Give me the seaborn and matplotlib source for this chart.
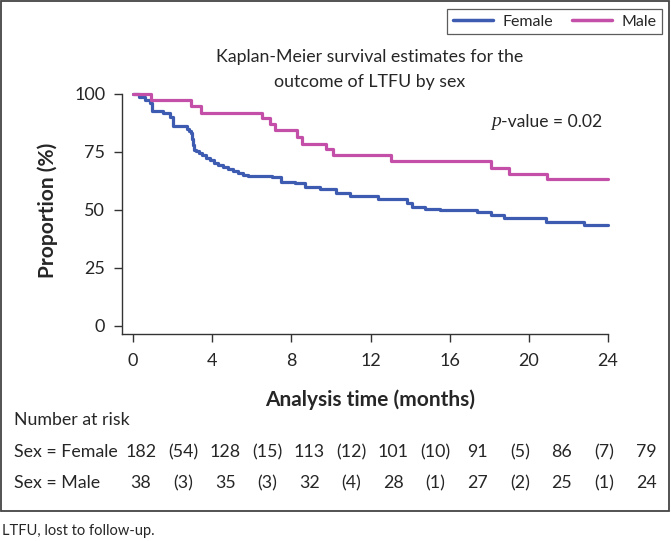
import numpy as np
import pandas as pd
import matplotlib
matplotlib.use('Agg')
import matplotlib.pyplot as plt
from matplotlib.patches import Rectangle
import seaborn as sns

# Kaplan-Meier step points (months, % not yet LTFU)
female_time = [0, 0.3, 0.6, 0.85, 0.94, 1.5, 1.87, 2.04, 2.7, 2.85, 2.95, 3.0, 3.05, 3.1,
               3.2, 3.35, 3.5, 3.7, 3.9, 4.1, 4.3, 4.55, 4.8, 5.05, 5.3, 5.55, 5.8, 6.25,
               7.0, 7.45, 8.2, 8.7, 9.45, 10.26, 10.95, 12.38, 13.85, 14.1, 14.75, 15.5,
               17.37, 18.1, 18.72, 20.85, 22.77, 24]
female_surv = [100, 98.5, 97.3, 96.0, 92.8, 91.7, 89.9, 86.2, 85.0, 84.0, 83.0, 80.5, 78.0,
               76.0, 75.2, 74.5, 73.6, 72.5, 71.4, 70.4, 69.5, 68.5, 67.6, 66.7, 65.9, 65.2,
               64.8, 64.6, 64.1, 62.2, 61.5, 60.0, 58.8, 57.3, 56.0, 54.6, 53.0, 51.2, 50.3,
               49.8, 49.0, 47.7, 46.5, 44.9, 43.5, 43.5]
male_time = [0, 0.91, 2.91, 3.44, 6.5, 6.92, 7.17, 8.3, 8.56, 9.74, 10.09, 13.05, 18.08,
             19.0, 20.94, 24]
male_surv = [100, 97.3, 94.7, 92.0, 89.6, 87.0, 84.6, 81.4, 78.6, 76.3, 73.5, 71.2, 68.2,
             65.6, 63.2, 63.2]

x_ticks = [0, 4, 8, 12, 16, 20, 24]
y_ticks = [0, 25, 50, 75, 100]

risk_female = ['182', '(54)', '128', '(15)', '113', '(12)', '101', '(10)', '91', '(5)', '86', '(7)', '79']
risk_male = ['38', '(3)', '35', '(3)', '32', '(4)', '28', '(1)', '27', '(2)', '25', '(1)', '24']

colors = {'Female': '#3d5bb0', 'Male': '#c34fa9'}
txt = '#262626'
fs = 12.8

df = pd.concat([
    pd.DataFrame({'time': female_time, 'surv': female_surv, 'sex': 'Female'}),
    pd.DataFrame({'time': male_time, 'surv': male_surv, 'sex': 'Male'}),
])

sns.set_style('ticks')
plt.rcParams['font.family'] = ['Lato', 'DejaVu Sans']

W, H = 671, 541
fig = plt.figure(figsize=(W / 100, H / 100), dpi=100)

def fx(px):
    return px / W

def fy(py):
    return 1 - py / H

ax = fig.add_axes([fx(122), fy(334), fx(608) - fx(122), fy(94) - fy(334)])
sns.lineplot(data=df, x='time', y='surv', hue='sex', palette=colors, estimator=None,
             drawstyle='steps-post', linewidth=2.3, ax=ax, clip_on=False)
ax.set_xlim(-0.56, 24)
ax.set_ylim(-3.6, 100)
ax.set_xticks(x_ticks)
ax.set_yticks(y_ticks)
ax.tick_params(axis='both', length=6, width=1, color='#333333', labelcolor=txt,
               labelsize=13, pad=6)
ax.tick_params(axis='x', pad=8)
for s in ['left', 'bottom']:
    ax.spines[s].set_color('#333333')
    ax.spines[s].set_linewidth(1)
sns.despine(ax=ax)
ax.set_xlabel('')
ax.set_ylabel('')

ax.legend_.remove()
handles = [plt.Line2D([], [], color=colors[k], lw=2.5) for k in ['Female', 'Male']]
leg = fig.legend(handles, ['Female', 'Male'], ncol=2, loc='upper right',
                 bbox_to_anchor=(fx(662), fy(9)), bbox_transform=fig.transFigure,
                 frameon=True, fancybox=False, borderaxespad=0, fontsize=11.5,
                 handlelength=2.5, handletextpad=0.6, columnspacing=1.2,
                 borderpad=0.35)
leg.get_frame().set_edgecolor('#333333')
leg.get_frame().set_linewidth(0.9)
for t in leg.get_texts():
    t.set_color(txt)

fig.text(fx(370), fy(57), 'Kaplan-Meier survival estimates for the', ha='center', va='center',
         fontsize=fs, color=txt)
fig.text(fx(370), fy(82), 'outcome of LTFU by sex', ha='center', va='center',
         fontsize=fs, color=txt)

pv = fig.text(fx(602), fy(122), '-value = 0.02', ha='right', va='center', fontsize=12.6, color=txt)
fig.canvas.draw()
bb = pv.get_window_extent()
fig.text(bb.x0 / W, fy(122), 'p', ha='right', va='center', fontsize=14, color=txt,
         family='Liberation Serif', style='italic')

fig.text(fx(48), fy(210), 'Proportion (%)', rotation=90, ha='center', va='center',
         fontsize=15, fontweight='bold', color=txt)
fig.text(fx(370), fy(400), 'Analysis time (months)', ha='center', va='center',
         fontsize=15, fontweight='bold', color=txt)

fig.text(fx(14), fy(420), 'Number at risk', ha='left', va='center', fontsize=fs, color=txt)
fig.text(fx(14), fy(452), 'Sex = Female', ha='left', va='center', fontsize=fs, color=txt)
fig.text(fx(14), fy(483), 'Sex = Male', ha='left', va='center', fontsize=fs, color=txt)
for i, (a, b) in enumerate(zip(risk_female, risk_male)):
    xc = 141 + 42.08 * i
    fig.text(fx(xc), fy(452), a, ha='center', va='center', fontsize=fs, color=txt)
    fig.text(fx(xc), fy(483), b, ha='center', va='center', fontsize=fs, color=txt)

fig.patches.append(Rectangle((fx(1), fy(511)), fx(668), fy(1) - fy(511),
                             transform=fig.transFigure, fill=False,
                             edgecolor='#444444', linewidth=1.3))
fig.text(fx(2), fy(531), 'LTFU, lost to follow-up.', ha='left', va='center',
         fontsize=10.5, color=txt)

fig.savefig('out.png', dpi=100)
